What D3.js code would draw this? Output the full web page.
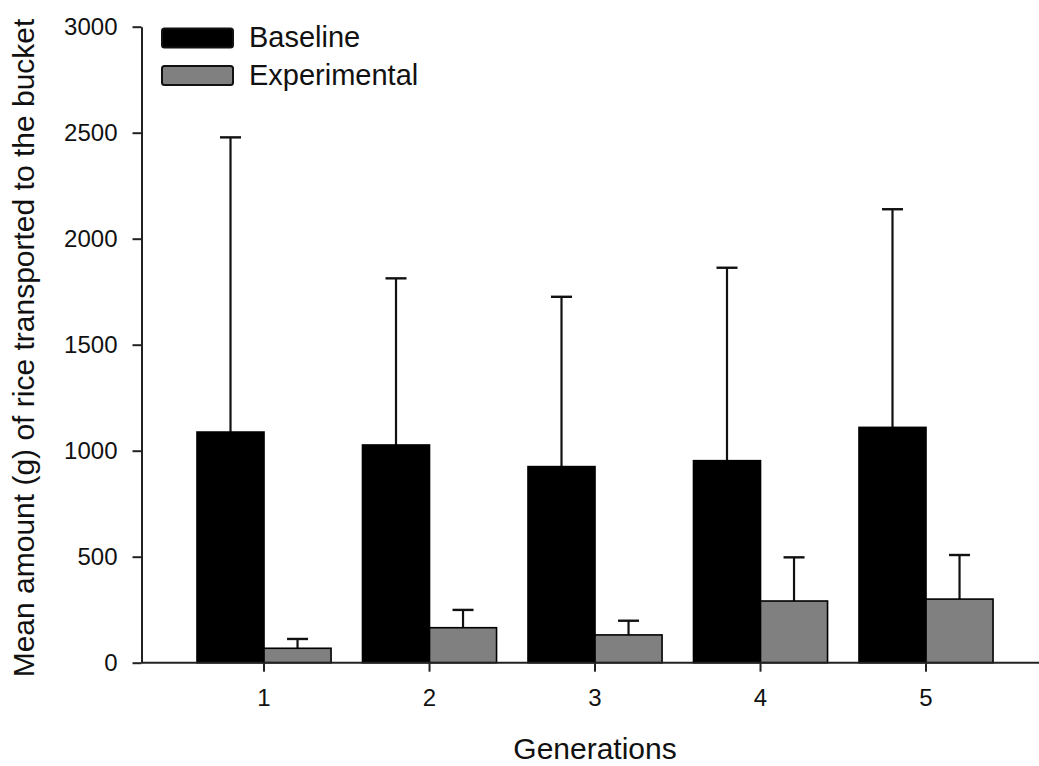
<!DOCTYPE html>
<html>
<head>
<meta charset="utf-8">
<script src="https://cdn.jsdelivr.net/npm/d3@7"></script>
<style>
  html, body { margin: 0; padding: 0; background: #fff; }
  svg { display: block; font-family: "Liberation Sans", Arial, sans-serif; }
</style>
</head>
<body>
<svg id="chart" width="1039" height="766"></svg>
<script>
const generations = ["1", "2", "3", "4", "5"];
const seriesNames = ["Baseline", "Experimental"];
const baselineMean = [1088, 1027, 925, 953, 1110];
const baselineSD = [1390, 786, 801, 910, 1029];
const experimentalMean = [68, 165, 131, 291, 300];
const experimentalSD = [44, 84, 67, 206, 208];
const yTicks = [0, 500, 1000, 1500, 2000, 2500, 3000];
const seriesColors = ["#000000", "#808080"];

(function () {
const svg = d3.select("#chart");
const mLeft = 141.5, mRight = 1039, mTop = 26.7, mBottom = 662.7;

const x = d3.scaleBand().domain(generations).range([mLeft, mRight])
  .paddingInner(0.19).paddingOuter(0.3065).align(0.547);
const xs = d3.scaleBand().domain(seriesNames).range([0, x.bandwidth()]).padding(0);
const y = d3.scaleLinear().domain([0, 3000]).range([mBottom, mTop]);

const rows = generations.map((g, i) => ({
  g,
  vals: [
    { s: "Baseline", m: baselineMean[i], sd: baselineSD[i], c: seriesColors[0] },
    { s: "Experimental", m: experimentalMean[i], sd: experimentalSD[i], c: seriesColors[1] }
  ]
}));

// error bars
const eg = svg.append("g");
rows.forEach(r => r.vals.forEach(v => {
  const cx = x(r.g) + xs(v.s) + xs.bandwidth() / 2;
  eg.append("line").attr("x1", cx).attr("x2", cx)
    .attr("y1", y(v.m)).attr("y2", y(v.m + v.sd))
    .attr("stroke", "#111").attr("stroke-width", 2.2);
  eg.append("line").attr("x1", cx - 10.5).attr("x2", cx + 10.5)
    .attr("y1", y(v.m + v.sd)).attr("y2", y(v.m + v.sd))
    .attr("stroke", "#111").attr("stroke-width", 2.4);
}));

// bars
const bg = svg.append("g");
rows.forEach(r => r.vals.forEach(v => {
  bg.append("rect")
    .attr("x", x(r.g) + xs(v.s))
    .attr("y", y(v.m))
    .attr("width", xs.bandwidth())
    .attr("height", y(0) - y(v.m))
    .attr("fill", v.c)
    .attr("stroke", "#000")
    .attr("stroke-width", 1.6);
}));

// y axis
const yAxis = svg.append("g").attr("transform", `translate(${mLeft},0)`)
  .call(d3.axisLeft(y).tickValues(yTicks).tickFormat(d3.format("d"))
    .tickSize(9).tickPadding(15).tickSizeOuter(0));
yAxis.select(".domain").attr("stroke", "#222").attr("stroke-width", 2);
yAxis.selectAll(".tick line").attr("stroke", "#222").attr("stroke-width", 2);
yAxis.selectAll(".tick text").attr("font-size", 24).attr("fill", "#111")
  .attr("font-family", "Liberation Sans, Arial, sans-serif");

// x axis
const xAxis = svg.append("g").attr("transform", `translate(0,${mBottom})`)
  .call(d3.axisBottom(x).tickSize(9).tickPadding(17.6).tickSizeOuter(0));
xAxis.select(".domain").attr("stroke", "#222").attr("stroke-width", 2)
  .attr("d", `M${mLeft},0H${mRight}`);
xAxis.selectAll(".tick line").attr("stroke", "#222").attr("stroke-width", 2);
xAxis.selectAll(".tick text").attr("font-size", 24).attr("fill", "#111")
  .attr("font-family", "Liberation Sans, Arial, sans-serif");

// axis titles
svg.append("text")
  .attr("x", x("3") + x.bandwidth() / 2).attr("y", 759)
  .attr("text-anchor", "middle").attr("font-size", 30).attr("fill", "#111")
  .text("Generations");
svg.append("text")
  .attr("transform", "translate(33.5,348) rotate(-90)")
  .attr("text-anchor", "middle").attr("font-size", 30).attr("fill", "#111")
  .text("Mean amount (g) of rice transported to the bucket");

// legend
const legY = [28.5, 66];
seriesNames.forEach((s, i) => {
  svg.append("rect")
    .attr("x", 162).attr("y", legY[i])
    .attr("width", 71).attr("height", 19)
    .attr("rx", 2.5).attr("ry", 2.5)
    .attr("fill", seriesColors[i]).attr("stroke", "#111").attr("stroke-width", 2);
  svg.append("text")
    .attr("x", 249).attr("y", legY[i] + 18.5)
    .attr("font-size", 29).attr("fill", "#111")
    .text(s);
});
})();
</script>
</body>
</html>
